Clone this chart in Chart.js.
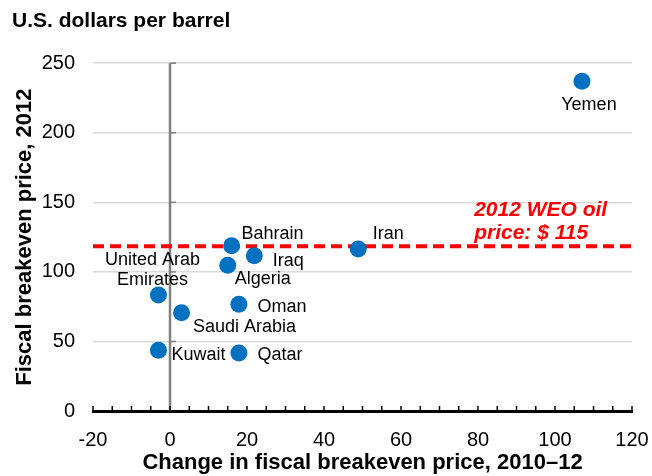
<!DOCTYPE html>
<html lang="en">
<head>
<meta charset="UTF-8">
<title>Fiscal breakeven prices</title>
<script src="https://cdn.jsdelivr.net/npm/chart.js"></script>
<style>
  html, body { margin: 0; padding: 0; background: #fff; }
</style>
</head>
<body>
<canvas id="myChart" width="652" height="476"></canvas>
<script>
// values
const countries = ['Yemen', 'Iran', 'Bahrain', 'Iraq', 'Algeria', 'United Arab Emirates', 'Saudi Arabia', 'Oman', 'Kuwait', 'Qatar'];
const priceChange = [107.0, 48.9, 16.0, 21.9, 15.0, -3.0, 3.0, 17.9, -3.0, 17.9];
const breakeven = [237.1, 116.4, 118.8, 111.6, 104.7, 83.3, 70.6, 76.7, 43.6, 41.7];
const weoLevel = 118.5; // where the dashed line sits in the picture
const xTicks = [-20, 0, 20, 40, 60, 80, 100, 120];
const yTicks = [0, 50, 100, 150, 200, 250];

// label text (line by line) and where it sits next to its dot
const pointLabels = [['Yemen'], ['Iran'], ['Bahrain'], ['Iraq'], ['Algeria'], ['United Arab', 'Emirates'], ['Saudi Arabia'], ['Oman'], ['Kuwait'], ['Qatar']];
const labelOffsets = [[7, 24], [30, -15], [41, -12], [34, 5], [35, 14], [-6, -35], [63, 14], [43, 3], [40, 5], [41, 2]];

const FONT = "'Liberation Sans', Arial, sans-serif";
Chart.defaults.font.family = FONT;
Chart.defaults.color = '#000';

// zero line, small tick marks, point labels, WEO note
const decorations = {
    id: 'decorations',
    beforeDatasetsDraw(chart) {
        const { ctx, scales: { x, y } } = chart;
        const x0 = x.getPixelForValue(0);
        ctx.save();
        ctx.strokeStyle = '#808080';
        ctx.lineWidth = 2.5;
        ctx.beginPath();
        ctx.moveTo(x0, y.getPixelForValue(yTicks[yTicks.length - 1]));
        ctx.lineTo(x0, y.getPixelForValue(0));
        ctx.stroke();
        ctx.lineWidth = 1.5;
        yTicks.slice(1).forEach(v => {
            const py = y.getPixelForValue(v);
            ctx.beginPath();
            ctx.moveTo(x0, py);
            ctx.lineTo(x0 + 6, py);
            ctx.stroke();
        });
        // minor ticks every 5 on the x axis, pointing up
        const yb = y.getPixelForValue(0);
        ctx.strokeStyle = '#000';
        for (let v = xTicks[0]; v <= xTicks[xTicks.length - 1]; v += 5) {
            const px = x.getPixelForValue(v);
            ctx.beginPath();
            ctx.moveTo(px, yb);
            ctx.lineTo(px, yb - 5);
            ctx.stroke();
        }
        ctx.restore();
    },
    afterDatasetsDraw(chart) {
        const { ctx, scales: { x, y } } = chart;
        const meta = chart.getDatasetMeta(1);
        ctx.save();
        ctx.font = '18px ' + FONT;
        ctx.fillStyle = '#000';
        ctx.textAlign = 'center';
        ctx.textBaseline = 'middle';
        meta.data.forEach((pt, i) => {
            const [dx, dy] = labelOffsets[i];
            pointLabels[i].forEach((t, k) => {
                ctx.fillText(t, pt.x + dx, pt.y + dy + k * 20);
            });
        });
        // note above the dashed line
        ctx.font = 'italic bold 21px ' + FONT;
        ctx.fillStyle = '#ff0000';
        ctx.textAlign = 'left';
        const nx = x.getPixelForValue(79);
        const ny = y.getPixelForValue(weoLevel);
        ctx.fillText('2012 WEO oil', nx, ny - 36);
        ctx.fillText('price: $ 115', nx, ny - 13);
        ctx.restore();
    }
};

var ctx = document.getElementById('myChart').getContext('2d');
var myChart = new Chart(ctx, {
    type: 'scatter',
    data: {
        datasets: [{
            label: '2012 WEO oil price',
            data: [{ x: xTicks[0], y: weoLevel }, { x: xTicks[xTicks.length - 1], y: weoLevel }],
            showLine: true,
            borderColor: '#ff0000',
            borderWidth: 4,
            borderDash: [11, 6],
            pointRadius: 0,
            order: 2
        }, {
            label: 'Fiscal breakeven price',
            data: countries.map((c, i) => ({ x: priceChange[i], y: breakeven[i] })),
            backgroundColor: '#0070c0',
            borderWidth: 0,
            pointRadius: 8.5,
            order: 1
        }]
    },
    options: {
        responsive: false,
        devicePixelRatio: 1,
        animation: false,
        layout: { padding: { left: 12, right: 20, top: 0, bottom: 0 } },
        plugins: {
            legend: { display: false },
            tooltip: { enabled: false },
            title: {
                display: true,
                text: 'U.S. dollars per barrel',
                align: 'start',
                font: { size: 21, weight: 'bold' },
                color: '#000',
                padding: { top: 9, bottom: 29 }
            }
        },
        scales: {
            x: {
                type: 'linear',
                min: xTicks[0],
                max: xTicks[xTicks.length - 1],
                afterBuildTicks: s => { s.ticks = xTicks.map(v => ({ value: v })); },
                afterFit: s => { s.height = 65; s.paddingLeft = 0; s.paddingRight = 0; },
                grid: { display: false, drawTicks: false },
                border: { display: true, color: '#000', width: 3 },
                ticks: { font: { size: 20 }, color: '#000', padding: 17, maxRotation: 0 },
                title: {
                    display: true,
                    text: 'Change in fiscal breakeven price, 2010–12',
                    font: { size: 22, weight: 'bold' },
                    color: '#000',
                    padding: 0
                }
            },
            y: {
                type: 'linear',
                min: yTicks[0],
                max: yTicks[yTicks.length - 1],
                afterBuildTicks: s => { s.ticks = yTicks.map(v => ({ value: v })); },
                afterFit: s => { s.width = 81; },
                grid: { color: '#d9d9d9', lineWidth: 1.5, drawTicks: false },
                border: { display: false },
                ticks: { font: { size: 20 }, color: '#000', padding: 18 },
                title: {
                    display: true,
                    text: 'Fiscal breakeven price, 2012',
                    font: { size: 22, weight: 'bold' },
                    color: '#000',
                    padding: 0
                }
            }
        }
    },
    plugins: [decorations]
});
</script>
</body>
</html>
